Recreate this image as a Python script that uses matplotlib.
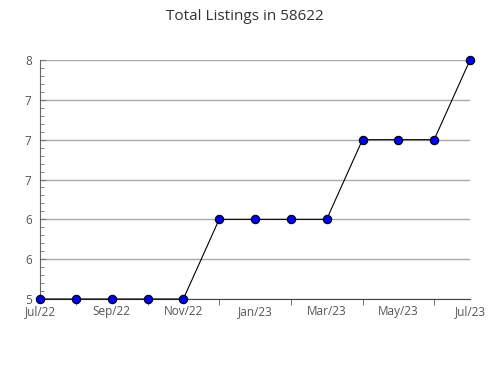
import numpy as np
import matplotlib.pyplot as plt
from matplotlib.ticker import MultipleLocator, FixedLocator

# monthly listing counts, Jul/22 .. Jul/23
months = ['Jul/22', 'Aug/22', 'Sep/22', 'Oct/22', 'Nov/22', 'Dec/22', 'Jan/23',
          'Feb/23', 'Mar/23', 'Apr/23', 'May/23', 'Jun/23', 'Jul/23']
listings = [5, 5, 5, 5, 5, 6, 6, 6, 6, 7, 7, 7, 8]
ytick_vals = [5, 5.5, 6, 6.5, 7, 7.5, 8]
ytick_labels = ['5', '6', '6', '7', '7', '7', '8']

plt.rcParams['font.family'] = ['Open Sans', 'DejaVu Sans']

fig = plt.figure(figsize=(4.9, 3.8), dpi=100)
ax = fig.add_axes([40 / 490, 1 - 299 / 380, 430 / 490, 239 / 380])

x = np.arange(len(months))
ax.plot(x, listings, color='black', linewidth=0.8, zorder=3, clip_on=False,
        marker='o', markersize=6, markerfacecolor='#0000ee',
        markeredgecolor='black', markeredgewidth=0.8)

ax.set_xlim(0, len(months) - 1)
ax.set_ylim(5, 8)
ax.set_yticks(ytick_vals)
ax.set_yticklabels(ytick_labels)
ax.yaxis.set_minor_locator(MultipleLocator(0.1))
ax.set_xticks(x[::2])
ax.set_xticklabels(months[::2])
ax.xaxis.set_minor_locator(FixedLocator(x))

ax.grid(axis='y', color='#aaaaaa', linewidth=1)
ax.set_axisbelow(True)
for s in ['top', 'right']:
    ax.spines[s].set_visible(False)
ax.spines['left'].set_color('#666666')
ax.spines['bottom'].set_color('#444444')

ax.tick_params(axis='y', which='major', direction='in', length=4, color='#777777',
               labelsize=8.5, labelcolor='#555555', pad=6)
ax.tick_params(axis='y', which='minor', direction='in', length=3, color='#777777')
ax.tick_params(axis='x', which='major', length=0, labelsize=8.5,
               labelcolor='#555555', pad=4.5)
ax.tick_params(axis='x', which='minor', direction='out', length=4, color='#555555')

fig.suptitle('Total Listings in 58622', y=0.975, fontsize=11, color='#333333')

fig.savefig('out.png', dpi=100)
